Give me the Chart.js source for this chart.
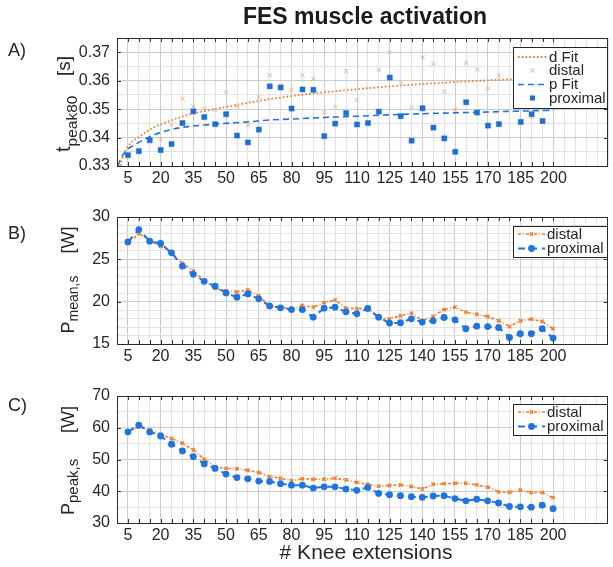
<!DOCTYPE html>
<html><head><meta charset="utf-8">
<script src="https://cdn.jsdelivr.net/npm/chart.js@4.4.1/dist/chart.umd.min.js"></script>
<style>
html,body{margin:0;padding:0;background:#fff;width:613px;height:567px;overflow:hidden;}
canvas{position:absolute;left:0;}
</style></head><body>
<canvas id="cA" width="613" height="190" style="top:0px"></canvas>
<canvas id="cB" width="613" height="178" style="top:190px"></canvas>
<canvas id="cC" width="613" height="199" style="top:368px"></canvas>
<script>
// ---------- data ----------
const knee = [5,10,15,20,25,30,35,40,45,50,55,60,65,70,75,80,85,90,95,100,105,110,115,120,125,130,135,140,145,150,155,160,165,170,175,180,185,190,195,200];
const xTickLabels = [5,20,35,50,65,80,95,110,125,140,155,170,185,200];

// Panel A: t_peak80 [s]
const tDistal = [0.3340,0.3355,0.3385,0.3394,0.3446,0.3537,0.3509,0.3501,0.3497,0.3559,0.3511,0.3443,0.3542,0.3619,0.3583,0.3568,0.3619,0.3607,0.3488,0.3509,0.3633,0.3533,0.3453,0.3638,0.3699,0.3593,0.3507,0.3682,0.3659,0.3562,0.3498,0.3663,0.3639,0.3572,0.3618,null,null,0.3472,null,null];
const tProximal = [0.3338,0.3352,0.3391,0.3356,0.3377,0.3451,0.3492,0.3472,0.3447,0.3482,0.3407,0.3383,0.3428,0.3580,0.3576,0.3502,0.3569,0.3568,0.3405,0.3449,0.3486,0.3446,0.3451,0.3491,0.3611,0.3475,0.3389,0.3503,0.3435,0.3397,0.3350,0.3524,0.3488,0.3442,0.3447,null,0.3455,0.3482,0.3458,null];
const dFitX = [1.6,2,3,4,5,7,10,15,20,30,40,50,60,70,80,90,100,110,125,150,175,200];
const dFitY = [0.3300,0.3315,0.3340,0.3356,0.3368,0.3386,0.3402,0.3428,0.3446,0.3474,0.3493,0.3508,0.3522,0.3535,0.3546,0.3555,0.3563,0.3570,0.3580,0.3593,0.3603,0.3612];
const pFitX = [0.5,1,2,3,5,7,10,15,20,30,40,50,60,70,80,90,100,110,125,150,175,200];
const pFitY = [0.3300,0.3312,0.3330,0.3342,0.3360,0.3370,0.3383,0.3403,0.3418,0.3436,0.3444,0.3450,0.3455,0.3462,0.3465,0.3469,0.3472,0.3475,0.3480,0.3486,0.3491,0.3496];
const yTicksA = [0.33,0.34,0.35,0.36,0.37];

// Panel B: P_mean,s [W]
const pMeanDistal = [26.87,28.05,27.26,26.55,25.77,24.52,23.62,22.48,21.58,21.27,21.15,21.38,20.68,19.5,19.35,19.11,19.54,19.35,19.89,20.21,19.23,19.17,19.23,18.05,17.97,18.33,18.64,17.74,18.25,19.07,19.35,18.76,18.52,18.25,17.74,17.07,17.74,17.94,17.66,16.8];
const pMeanProximal = [27.06,28.52,27.14,26.87,25.77,24.2,23.23,22.4,21.82,21.03,20.52,20.91,20.33,19.5,19.27,19.07,19.07,18.17,19.23,19.35,18.8,18.56,19.19,18.17,17.47,17.51,17.97,17.59,17.74,18.13,17.86,16.8,17.1,17.06,16.95,15.78,16.21,16.21,16.8,15.7];
const yTicksB = [15,20,25,30];

// Panel C: P_peak,s [W]
const pPeakDistal = [58.6,60.3,59.3,57.9,56.6,55.1,53.0,50.1,47.7,47.2,47.1,46.6,45.9,44.6,44.1,43.3,43.9,43.8,43.8,44.1,43.6,42.8,42.2,41.6,41.8,42.0,41.5,40.7,42.2,42.4,42.5,42.5,42.0,41.3,39.8,39.7,40.3,39.6,39.6,38.0];
const pPeakProximal = [58.7,60.8,58.7,57.4,54.8,52.7,50.9,48.6,47.2,45.4,44.3,43.9,43.2,43.1,42.4,41.9,41.9,41.0,41.4,41.4,40.7,40.3,41.2,39.3,38.9,38.6,38.3,38.1,38.5,38.6,37.7,37.0,37.5,37.0,36.3,35.2,35.1,35.0,35.6,34.5];
const yTicksC = [30,40,50,60,70];

// ---------- styling ----------
const FONT = "'Liberation Sans', Arial, Helvetica, sans-serif";
const TXT = '#262626';
const ORANGE = '#ef7b2c';
const ORANGE_LIGHT = '#f5ad85';
const BLUE = '#1f74e0';
const BLUE_SQ = '#1e6fd2';

const pts = (xs, ys) => xs.map((x, i) => ({x: x, y: ys[i]}));
const isIn = (arr, v) => arr.some(a => Math.abs(a - v) < 1e-9);

function xScale(h) {
  return {
    type: 'linear', min: 0, max: 225,
    afterFit: s => { s.height = h; },
    ticks: { stepSize: 5, autoSkip: false, maxRotation: 0, minRotation: 0, padding: 3, color: TXT,
      font: {family: FONT, size: 16},
      callback: v => isIn(xTickLabels, v) ? String(v) : '' },
    grid: { drawTicks: false, lineWidth: 1,
      color: c => (c.tick && isIn(xTickLabels, c.tick.value)) ? '#cdcdcd' : '#e2e2e2' },
    border: { display: false }
  };
}
function yScale(min, max, step, labels, dec) {
  return {
    type: 'linear', min: min, max: max,
    afterFit: s => { s.width = 117; },
    ticks: { stepSize: step, autoSkip: false, padding: 7, color: TXT,
      font: {family: FONT, size: 16},
      callback: v => isIn(labels, v) ? Number(v).toFixed(dec) : '' },
    grid: { drawTicks: false, lineWidth: 1,
      color: c => (c.tick && isIn(labels, c.tick.value)) ? '#cdcdcd' : '#e2e2e2' },
    border: { display: false }
  };
}

function drawMarker(ctx, style, x, y, r, color, lw) {
  ctx.save();
  ctx.fillStyle = color; ctx.strokeStyle = color; ctx.lineWidth = lw; ctx.setLineDash([]);
  ctx.beginPath();
  if (style === 'rect') {
    const s = r * Math.SQRT1_2;
    ctx.rect(x - s, y - s, 2 * s, 2 * s); ctx.fill();
  } else if (style === 'circle') {
    ctx.arc(x, y, r, 0, Math.PI * 2); ctx.fill();
  } else if (style === 'crossRot') {
    const s = r * Math.SQRT1_2;
    ctx.moveTo(x - s, y - s); ctx.lineTo(x + s, y + s);
    ctx.moveTo(x - s, y + s); ctx.lineTo(x + s, y - s); ctx.stroke();
  }
  ctx.restore();
}

const decor = {
  id: 'decor',
  afterDraw(chart, args, o) {
    const ctx = chart.ctx, a = chart.chartArea, offY = o.offY;
    const xs = chart.scales.x, ys = chart.scales.y;
    ctx.save();
    // inner tick marks
    ctx.strokeStyle = '#333'; ctx.lineWidth = 1; ctx.setLineDash([]);
    ctx.beginPath();
    xs.ticks.forEach(t => {
      if (t.value < 5 || t.value > 200) return;
      const px = Math.round(xs.getPixelForValue(t.value)) + 0.5;
      ctx.moveTo(px, a.bottom); ctx.lineTo(px, a.bottom - 4);
      ctx.moveTo(px, a.top); ctx.lineTo(px, a.top + 4);
    });
    ys.ticks.forEach(t => {
      if (!isIn(o.yLabels, t.value)) return;
      const py = Math.round(ys.getPixelForValue(t.value)) + 0.5;
      ctx.moveTo(a.left, py); ctx.lineTo(a.left + 4, py);
      ctx.moveTo(a.right, py); ctx.lineTo(a.right - 4, py);
    });
    ctx.stroke();
    // box
    ctx.strokeStyle = '#2b2b2b';
    ctx.strokeRect(Math.round(a.left) + 0.5, Math.round(a.top) + 0.5, Math.round(a.right - a.left) - 1, Math.round(a.bottom - a.top));

    // legend
    const L = o.legend;
    const ly = L.y - offY;
    ctx.fillStyle = '#fff';
    ctx.fillRect(L.x, ly, L.w, L.h);
    ctx.strokeStyle = '#262626'; ctx.lineWidth = 1;
    ctx.strokeRect(L.x + 0.5, ly + 0.5, L.w, L.h);
    ctx.font = '15px ' + FONT; ctx.textBaseline = 'middle'; ctx.textAlign = 'left';
    chart.data.datasets.slice().sort((p, q) => p.legendIndex - q.legendIndex).forEach((d, i) => {
      const y = L.rows[i] - offY;
      if (d.showLine) {
        ctx.save();
        ctx.strokeStyle = d.borderColor; ctx.lineWidth = d.borderWidth;
        ctx.setLineDash(d.borderDash || []);
        ctx.beginPath(); ctx.moveTo(L.s0, y); ctx.lineTo(L.s1, y); ctx.stroke();
        ctx.restore();
      }
      if (d.pointRadius > 0) {
        drawMarker(ctx, d.pointStyle, (L.s0 + L.s1) / 2, y, d.pointRadius,
          d.pointStyle === 'crossRot' ? d.pointBorderColor : d.pointBackgroundColor, d.pointBorderWidth || 1);
      }
      ctx.fillStyle = TXT;
      ctx.fillText(d.label, L.s1 + 2, y + 0.5);
    });

    // y-axis title (rotated, with subscript)
    ctx.fillStyle = TXT; ctx.textBaseline = 'alphabetic'; ctx.textAlign = 'left';
    let cur = null;
    o.yTitle.forEach(sg => {
      ctx.font = sg.size + 'px ' + FONT;
      const start = (sg.start !== undefined) ? sg.start : cur;
      ctx.save();
      ctx.translate(sg.base, start - offY);
      ctx.rotate(-Math.PI / 2);
      ctx.fillText(sg.t, 0, 0);
      ctx.restore();
      cur = start - ctx.measureText(sg.t).width;
    });
    // panel label
    ctx.font = '18px ' + FONT;
    ctx.fillText(o.panel, 8, o.panelY - offY);
    // extra texts
    (o.texts || []).forEach(t => {
      ctx.font = t.font; ctx.textAlign = 'center'; ctx.textBaseline = 'middle';
      ctx.fillStyle = t.color || TXT;
      ctx.fillText(t.t, t.x, t.y - offY);
    });
    ctx.restore();
  }
};

const baseOpts = (padTop, xH, yAxis) => ({
  responsive: false, animation: false,
  layout: { padding: { top: padTop, left: 0, right: 1, bottom: 0 } },
  plugins: { legend: { display: false }, tooltip: { enabled: false }, title: { display: false } },
  scales: { x: xScale(xH), y: yAxis }
});

// ---------- Panel A ----------
const optA = baseOpts(38, 24, yScale(0.33, 0.375, 0.005, yTicksA, 2));
optA.plugins.decor = {
  offY: 0, yLabels: yTicksA, panel: 'A)', panelY: 56,
  yTitle: [
    {t: 't', size: 20, base: 70, start: 152},
    {t: 'peak80', size: 15.5, base: 77},
    {t: '[s]', size: 19, base: 70, start: 76}
  ],
  legend: { x: 513, y: 47, w: 94, h: 61, s0: 518, s1: 547, rows: [57, 70.5, 84.5, 98] },
  texts: [{t: 'FES muscle activation', x: 365, y: 18, font: 'bold 23px ' + FONT, color: '#1a1a1a'}]
};
new Chart(document.getElementById('cA'), {
  type: 'scatter',
  data: { datasets: [
    { label: 'd Fit', legendIndex: 0, order: 3, data: pts(dFitX, dFitY), showLine: true, borderColor: ORANGE,
      borderWidth: 1.8, borderDash: [1.6, 2.2], pointRadius: 0, cubicInterpolationMode: 'monotone' },
    { label: 'distal', legendIndex: 1, order: 2, data: pts(knee, tDistal), showLine: false, pointStyle: 'crossRot',
      pointRadius: 3, pointBorderWidth: 1, pointBorderColor: ORANGE_LIGHT, pointBackgroundColor: ORANGE_LIGHT },
    { label: 'p Fit', legendIndex: 2, order: 1, data: pts(pFitX, pFitY), showLine: true, borderColor: BLUE,
      borderWidth: 1.6, borderDash: [6, 4], pointRadius: 0, cubicInterpolationMode: 'monotone' },
    { label: 'proximal', legendIndex: 3, order: 0, data: pts(knee, tProximal), showLine: false, pointStyle: 'rect',
      pointRadius: 3.6, pointBorderWidth: 0.5, pointBorderColor: BLUE_SQ, pointBackgroundColor: BLUE_SQ }
  ]},
  options: optA,
  plugins: [decor]
});

// ---------- Panel B ----------
const optB = baseOpts(27, 24, yScale(15, 30, 1, yTicksB, 0));
optB.plugins.decor = {
  offY: 190, yLabels: yTicksB, panel: 'B)', panelY: 239,
  yTitle: [
    {t: 'P', size: 18, base: 74, start: 333.5},
    {t: 'mean,s', size: 14, base: 78},
    {t: '[W]', size: 18, base: 74, start: 253.5}
  ],
  legend: { x: 513, y: 226, w: 94, h: 31, s0: 518, s1: 545, rows: [234, 248.5] }
};
new Chart(document.getElementById('cB'), {
  type: 'scatter',
  data: { datasets: [
    { label: 'distal', legendIndex: 0, order: 1, data: pts(knee, pMeanDistal), showLine: true, borderColor: ORANGE,
      borderWidth: 1.6, borderDash: [3, 2, 1, 2], pointStyle: 'crossRot', pointRadius: 2.4, pointBorderWidth: 1.4,
      pointBorderColor: ORANGE, pointBackgroundColor: ORANGE },
    { label: 'proximal', legendIndex: 1, order: 0, data: pts(knee, pMeanProximal), showLine: true, borderColor: BLUE,
      borderWidth: 2, borderDash: [7, 5], pointStyle: 'circle', pointRadius: 3.4, pointBorderWidth: 0,
      pointBorderColor: BLUE, pointBackgroundColor: BLUE }
  ]},
  options: optB,
  plugins: [decor]
});

// ---------- Panel C ----------
const optC = baseOpts(28, 44, yScale(30, 70, 5, yTicksC, 0));
optC.plugins.decor = {
  offY: 368, yLabels: yTicksC, panel: 'C)', panelY: 411,
  yTitle: [
    {t: 'P', size: 18, base: 74, start: 515},
    {t: 'peak,s', size: 15, base: 78},
    {t: '[W]', size: 18, base: 74, start: 433}
  ],
  legend: { x: 513, y: 404, w: 94, h: 31, s0: 518, s1: 545, rows: [412, 426.5] },
  texts: [{t: '# Knee extensions', x: 366, y: 553, font: '21px ' + FONT}]
};
new Chart(document.getElementById('cC'), {
  type: 'scatter',
  data: { datasets: [
    { label: 'distal', legendIndex: 0, order: 1, data: pts(knee, pPeakDistal), showLine: true, borderColor: ORANGE,
      borderWidth: 1.6, borderDash: [3, 2, 1, 2], pointStyle: 'crossRot', pointRadius: 2.4, pointBorderWidth: 1.4,
      pointBorderColor: ORANGE, pointBackgroundColor: ORANGE },
    { label: 'proximal', legendIndex: 1, order: 0, data: pts(knee, pPeakProximal), showLine: true, borderColor: BLUE,
      borderWidth: 2, borderDash: [7, 5], pointStyle: 'circle', pointRadius: 3.4, pointBorderWidth: 0,
      pointBorderColor: BLUE, pointBackgroundColor: BLUE }
  ]},
  options: optC,
  plugins: [decor]
});
</script>
</body></html>
